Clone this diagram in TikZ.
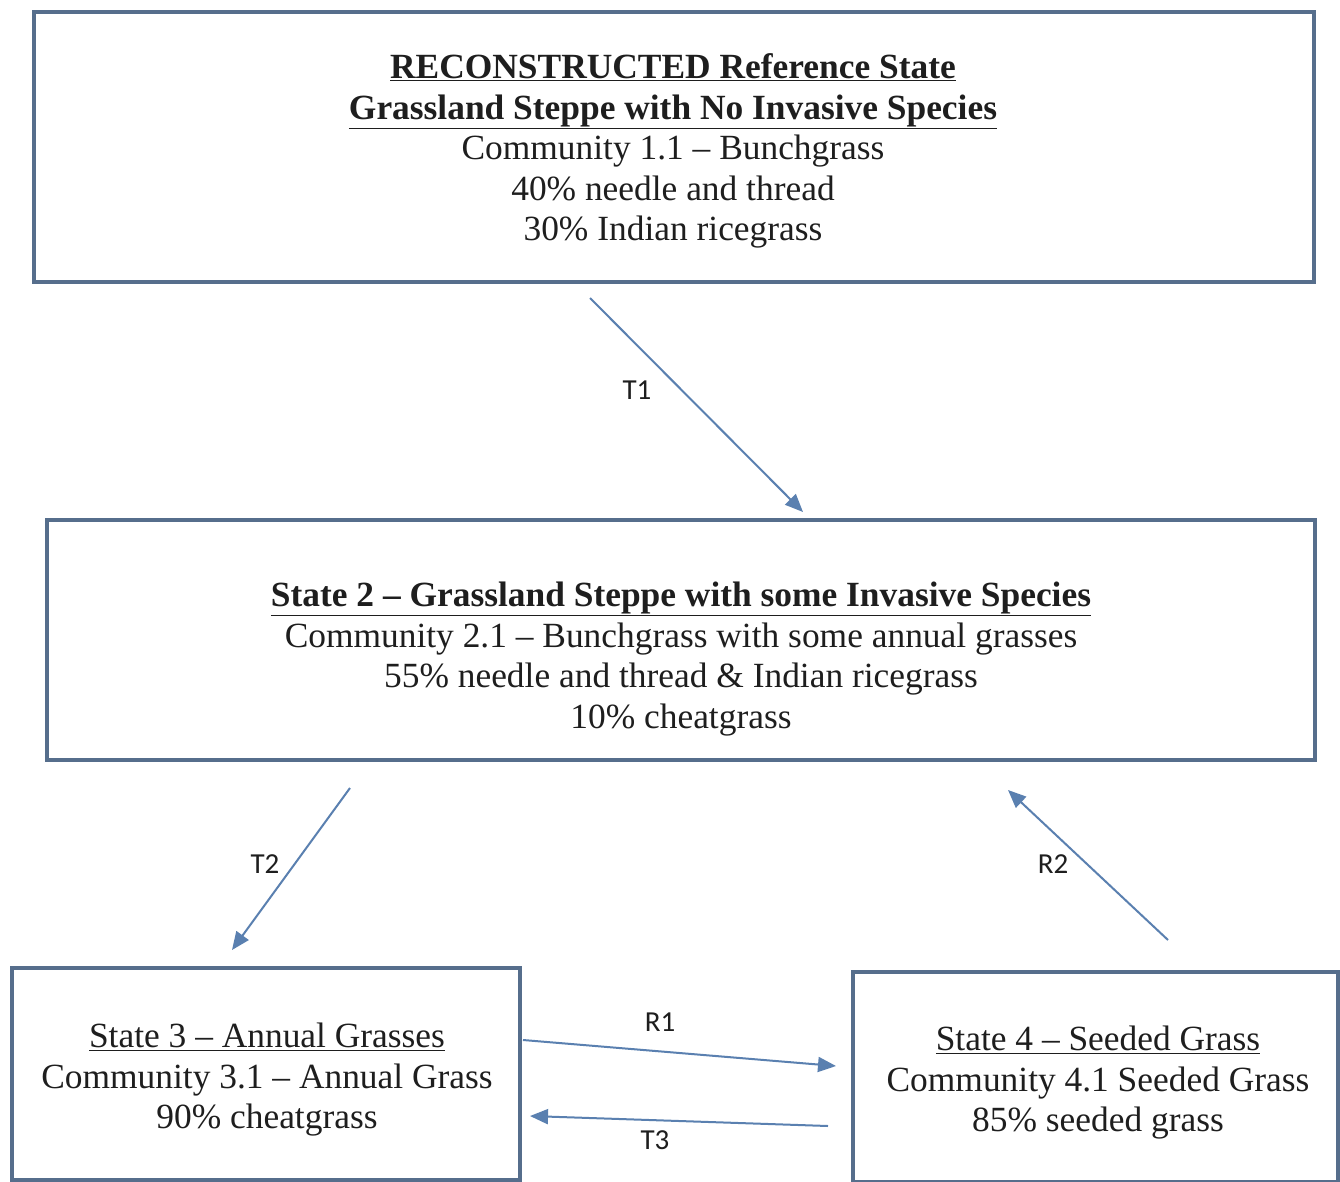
\documentclass[tikz,border=0pt]{standalone}
\usepackage{fontspec}
\setmainfont{Liberation Serif}
\newfontfamily\lblfont{Carlito}
\usetikzlibrary{arrows.meta}
\definecolor{boxcol}{HTML}{566E8C}
\definecolor{arrcol}{HTML}{5A80B0}
\definecolor{txtcol}{HTML}{1E1E1E}
\tikzset{
  statebox/.style={draw=boxcol, line width=3.6pt, rectangle, inner sep=0pt},
  statetext/.style={align=center, text=txtcol, font=\fontsize{35.4}{40.5}\selectfont, inner sep=0pt},
  trans/.style={draw=arrcol, line width=2pt, -{Triangle[length=18pt,width=15pt]}},
  translabel/.style={font=\lblfont\fontsize{29}{32}\selectfont, text=txtcol, inner sep=0pt}
}
\newcommand{\ul}[1]{\underline{#1}}
\begin{document}
\begin{tikzpicture}[x=1pt,y=-1pt]
\useasboundingbox (0,0) rectangle (1340,1182);
\fill[white] (0,0) rectangle (1340,1182);
% boxes
\node[statebox, minimum width=1280pt, minimum height=270pt] (b1) at (674,147) {};
\node[statebox, minimum width=1268pt, minimum height=240pt] (b2) at (681,640) {};
\node[statebox, minimum width=508pt, minimum height=212pt] (b3) at (266,1074) {};
\node[statebox, minimum width=485pt, minimum height=210pt] (b4) at (1095.5,1077) {};
% texts
\node[statetext] (x1) at (673,151) {\textbf{\ul{RECONSTRUCTED Reference State}}\\
  \textbf{\ul{Grassland Steppe with No Invasive Species}}\\
  Community 1.1 – Bunchgrass\\
  40\% needle and thread\\
  30\% Indian ricegrass};
\node[statetext] (x2) at (681,659) {\textbf{\ul{State 2 – Grassland Steppe with some Invasive Species}}\\
  Community 2.1 – Bunchgrass with some annual grasses\\
  55\% needle and thread \& Indian ricegrass\\
  10\% cheatgrass};
\node[statetext] (x3) at (267,1080) {\ul{State 3 – Annual Grasses}\\
  Community 3.1 – Annual Grass\\
  90\% cheatgrass};
\node[statetext] (x4) at (1098,1083) {\ul{State 4 – Seeded Grass}\\
  Community 4.1 Seeded Grass\\
  85\% seeded grass};
% connector ends
\coordinate (t1s) at (590,298);
\coordinate (t1e) at (803,512);
\coordinate (t2s) at (350,788);
\coordinate (t2e) at (232,950);
\coordinate (r2s) at (1168,940);
\coordinate (r2e) at (1008,790);
\coordinate (r1s) at (523,1040);
\coordinate (r1e) at (836,1066);
\coordinate (t3s) at (828,1126);
\coordinate (t3e) at (530,1116);
\draw[trans] (t1s) -- (t1e);
\draw[trans] (t2s) -- (t2e);
\draw[trans] (r2s) -- (r2e);
\draw[trans] (r1s) -- (r1e);
\draw[trans] (t3s) -- (t3e);
% labels
\node[translabel] (l1) at (637,390) {T1};
\node[translabel] (l2) at (265,864) {T2};
\node[translabel] (l3) at (1053,864) {R2};
\node[translabel] (l4) at (660,1022) {R1};
\node[translabel] (l5) at (655,1140) {T3};
\end{tikzpicture}
\end{document}
